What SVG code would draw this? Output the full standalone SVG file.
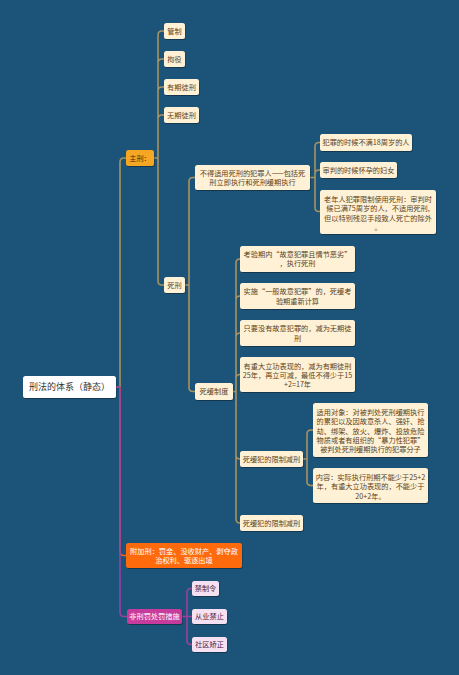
<svg xmlns="http://www.w3.org/2000/svg" width="459" height="675" viewBox="0 0 459 675">
<style>
text{font-family:"Noto Sans CJK SC","Noto Sans",sans-serif;font-size:7.2px;text-anchor:middle;fill:#5C4318}
.n{fill:#FFF1D6}
.c{fill:none;stroke:#A8925F;stroke-width:1.6}
.p{fill:none;stroke:#9B3FA0;stroke-width:1.6}
.o{fill:none;stroke:#E8661A;stroke-width:1.6}
.w{fill:#FFFFFF}
.k{fill:#F6E1F2}
.kt{fill:#4A2140}
</style>
<defs>
<filter id="sh" x="-10%" y="-20%" width="120%" height="150%">
<feDropShadow dx="0.6" dy="1" stdDeviation="0.6" flood-color="#000" flood-opacity="0.35"/>
</filter>
</defs>
<rect width="459" height="675" fill="#1C5479"/>
<g id="connectors">
<path class="c" d="M116,387 H120 M120,387 V162 Q120,158 124,158 H126"/>
<path class="o" d="M120,387 V551.5 Q120,555.5 124,555.5 H126"/>
<path class="p" d="M116,387 H120 M120,387 V612.5 Q120,616.5 124,616.5 H127"/>
<path class="c" d="M154,158 H158 M158,158 V35 Q158,31 162,31 H164 M158,158 V63 Q158,59 162,59 H164 M158,158 V91 Q158,87 162,87 H164 M158,158 V119 Q158,115 162,115 H164 M158,158 V281 Q158,285 162,285 H164"/>
<path class="c" d="M185,285 H189 M189,285 V181.5 Q189,177.5 193,177.5 H195 M189,285 V387.5 Q189,391.5 193,391.5 H195"/>
<path class="c" d="M310,177.5 H315 M315,177.5 V146.5 Q315,142.5 319,142.5 H320 M315,177.5 V174 Q315,170 319,170 H320 M315,177.5 V207.5 Q315,211.5 319,211.5 H320"/>
<path class="c" d="M233,391.5 H236 M236,391.5 V263 Q236,259 240,259 M236,391.5 V300 Q236,296 240,296 M236,391.5 V337 Q236,333 240,333 M236,391.5 V378.5 Q236,374.5 240,374.5 M236,391.5 V455 Q236,459 240,459 M236,391.5 V519 Q236,523 240,523"/>
<path class="c" d="M303,459 H307 M307,459 V434 Q307,430 311,430 H313 M307,459 V481.5 Q307,485.5 311,485.5 H313"/>
<path class="p" d="M182,616.5 H187 M187,616.5 V592.5 Q187,588.5 191,588.5 H192 M187,616.5 H192 M187,616.5 V640.5 Q187,644.5 191,644.5 H192"/>
</g>
<g id="root">
<rect x="23" y="376" width="93" height="22" rx="2.5" class="w" filter="url(#sh)"/>
<text x="69.5" y="390.3" style="font-size:9px;fill:#333333">刑法的体系（静态）</text>
</g>
<g id="zhuxing">
<rect x="126" y="150" width="28" height="16" rx="2.5" fill="#F5A623" filter="url(#sh)"/>
<text x="140" y="160.6" style="fill:#4A3000">主刑：</text>
</g>
<g id="guanzhi">
<rect x="164" y="23" width="21" height="16" rx="2.5" class="n" filter="url(#sh)"/>
<text x="174.5" y="33.6">管制</text>
</g>
<g id="juyi">
<rect x="164" y="51" width="21" height="16" rx="2.5" class="n" filter="url(#sh)"/>
<text x="174.5" y="61.6">拘役</text>
</g>
<g id="youqi">
<rect x="164" y="79" width="35" height="16" rx="2.5" class="n" filter="url(#sh)"/>
<text x="181.5" y="89.6">有期徒刑</text>
</g>
<g id="wuqi">
<rect x="164" y="107" width="35" height="16" rx="2.5" class="n" filter="url(#sh)"/>
<text x="181.5" y="117.6">无期徒刑</text>
</g>
<g id="sixing">
<rect x="164" y="277" width="21" height="16" rx="2.5" class="n" filter="url(#sh)"/>
<text x="174.5" y="287.6">死刑</text>
</g>
<g id="bude">
<rect x="195" y="165" width="115" height="25" rx="2.5" class="n" filter="url(#sh)"/>
<text x="252.5" y="175.6">不得适用死刑的犯罪人——包括死</text>
<text x="252.5" y="184.8">刑立即执行和死刑缓期执行</text>
</g>
<g id="fanzui18">
<rect x="320" y="134" width="92" height="17" rx="2.5" class="n" filter="url(#sh)"/>
<text x="366" y="145.1">犯罪的时候不满18周岁的人</text>
</g>
<g id="huaiyun">
<rect x="320" y="162" width="77" height="16" rx="2.5" class="n" filter="url(#sh)"/>
<text x="358.5" y="172.6">审判的时候怀孕的妇女</text>
</g>
<g id="laonian">
<rect x="320" y="190" width="116" height="44" rx="2.5" class="n" filter="url(#sh)"/>
<text x="378" y="201.5">老年人犯罪限制使用死刑：审判时</text>
<text x="378" y="211">候已满75周岁的人，不适用死刑,</text>
<text x="378" y="220.5">但以特别残忍手段致人死亡的除外</text>
<text x="378" y="230">。</text>
</g>
<g id="sihuan">
<rect x="195" y="383" width="38" height="17" rx="2.5" class="n" filter="url(#sh)"/>
<text x="214" y="394.1">死缓制度</text>
</g>
<g id="kaoyan">
<rect x="240" y="246" width="115" height="26" rx="2.5" class="n" filter="url(#sh)"/>
<text x="297.5" y="256.6">考验期内“故意犯罪且情节恶劣”</text>
<text x="297.5" y="266.4">，执行死刑</text>
</g>
<g id="shishi">
<rect x="240" y="283" width="115" height="26" rx="2.5" class="n" filter="url(#sh)"/>
<text x="297.5" y="294">实施“一般故意犯罪”的，死缓考</text>
<text x="297.5" y="303.5">验期重新计算</text>
</g>
<g id="zhiyao">
<rect x="240" y="320" width="115" height="26" rx="2.5" class="n" filter="url(#sh)"/>
<text x="297.5" y="331.3">只要没有故意犯罪的，减为无期徒</text>
<text x="297.5" y="340.8">刑</text>
</g>
<g id="zhongda">
<rect x="240" y="357" width="115" height="35" rx="2.5" class="n" filter="url(#sh)"/>
<text x="297.5" y="368.5">有重大立功表现的，减为有期徒刑</text>
<text x="297.5" y="377.9">25年，再立可减，最低不得少于15</text>
<text x="297.5" y="387.3">+2=17年</text>
</g>
<g id="xianzhi1">
<rect x="240" y="451" width="63" height="16" rx="2.5" class="n" filter="url(#sh)"/>
<text x="271.5" y="461.6">死缓犯的限制减刑</text>
</g>
<g id="duixiang">
<rect x="313" y="403" width="115" height="54" rx="2.5" class="n" filter="url(#sh)"/>
<text x="370.5" y="414.9">适用对象：对被判处死刑缓期执行</text>
<text x="370.5" y="424.2">的累犯以及因故意杀人、强奸、抢</text>
<text x="370.5" y="433.5">劫、绑架、放火、爆炸、投放危险</text>
<text x="370.5" y="442.8">物质或者有组织的“暴力性犯罪”</text>
<text x="370.5" y="452.1">被判处死刑缓期执行的犯罪分子</text>
</g>
<g id="neirong">
<rect x="313" y="468" width="115" height="35" rx="2.5" class="n" filter="url(#sh)"/>
<text x="370.5" y="479.9">内容：实际执行刑期不能少于25+2</text>
<text x="370.5" y="489.2">年，有重大立功表现的，不能少于</text>
<text x="370.5" y="498.5">20+2年。</text>
</g>
<g id="xianzhi2">
<rect x="240" y="515" width="63" height="16" rx="2.5" class="n" filter="url(#sh)"/>
<text x="271.5" y="525.6">死缓犯的限制减刑</text>
</g>
<g id="fujia">
<rect x="126" y="543" width="116" height="25" rx="2.5" fill="#FF6A0D" filter="url(#sh)"/>
<text x="184" y="553.8" style="fill:#FFFFFF">附加刑：罚金、没收财产、剥夺政</text>
<text x="184" y="562.8" style="fill:#FFFFFF">治权利、驱逐出境</text>
</g>
<g id="feixing">
<rect x="127" y="609" width="55" height="15" rx="2.5" fill="#C73B9C" filter="url(#sh)"/>
<text x="154.5" y="619.1" style="fill:#FFFFFF">非刑罚处罚措施</text>
</g>
<g id="jinzhi">
<rect x="192" y="581" width="27" height="15" rx="2.5" class="k" filter="url(#sh)"/>
<text x="205.5" y="591.1" class="kt">禁制令</text>
</g>
<g id="congye">
<rect x="192" y="609" width="35" height="15" rx="2.5" class="k" filter="url(#sh)"/>
<text x="209.5" y="619.1" class="kt">从业禁止</text>
</g>
<g id="shequ">
<rect x="192" y="637" width="35" height="15" rx="2.5" class="k" filter="url(#sh)"/>
<text x="209.5" y="647.1" class="kt">社区矫正</text>
</g>
</svg>
